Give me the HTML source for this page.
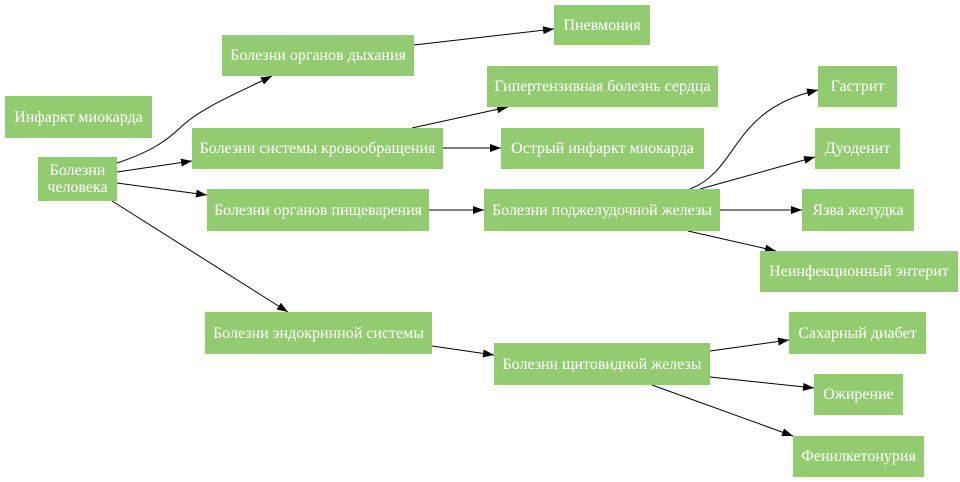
<!DOCTYPE html>
<html><head><meta charset="utf-8"><style>
html,body{margin:0;padding:0;background:#fff;width:960px;height:482px;overflow:hidden}
.n{position:absolute;background:#93cc70;color:#fff;font-family:"Liberation Serif",serif;font-size:16px;display:flex;align-items:center;justify-content:center;text-align:center;line-height:17px;white-space:nowrap}
svg{position:absolute;left:0;top:0}
</style></head><body>
<svg width="960" height="482">
<defs><marker id="a" markerWidth="11" markerHeight="8" refX="11" refY="4" orient="auto" markerUnits="userSpaceOnUse"><path d="M0,0L11,4L0,8z" fill="#000"/></marker></defs>
<g stroke="#000" stroke-width="1" fill="none" marker-end="url(#a)">
<path d="M117,163C150,152 165,142 180,128C200,108 240,92 272,76"/>
<path d="M117,172L192,161"/>
<path d="M117,183L207,195"/>
<path d="M112,201L288,312"/>
<path d="M414,45L554,29"/>
<path d="M412,128L508,107"/>
<path d="M443,148L501,148"/>
<path d="M429,210L484,210"/>
<path d="M690,189C740,170 730,110 818,90"/>
<path d="M700,189L815,157"/>
<path d="M720,210L802,210"/>
<path d="M688,231L776,251"/>
<path d="M432,346L494,355"/>
<path d="M710,351L789,340"/>
<path d="M710,377L814,388"/>
<path d="M652,385L793,436"/>
</g></svg>
<div class="n" style="left:5px;top:96px;width:147px;height:42px">Инфаркт миокарда</div>
<div class="n" style="left:38px;top:157px;width:79px;height:44px">Болезни<br>человека</div>
<div class="n" style="left:222px;top:35px;width:192px;height:41px">Болезни органов дыхания</div>
<div class="n" style="left:554px;top:5px;width:96px;height:40px">Пневмония</div>
<div class="n" style="left:487px;top:66px;width:231px;height:41px">Гипертензивная болезнь сердца</div>
<div class="n" style="left:192px;top:128px;width:251px;height:41px">Болезни системы кровообращения</div>
<div class="n" style="left:501px;top:128px;width:203px;height:41px">Острый инфаркт миокарда</div>
<div class="n" style="left:818px;top:66px;width:79px;height:41px">Гастрит</div>
<div class="n" style="left:815px;top:128px;width:85px;height:41px">Дуоденит</div>
<div class="n" style="left:207px;top:189px;width:222px;height:42px">Болезни органов пищеварения</div>
<div class="n" style="left:484px;top:189px;width:236px;height:42px">Болезни поджелудочной железы</div>
<div class="n" style="left:802px;top:189px;width:112px;height:42px">Язва желудка</div>
<div class="n" style="left:760px;top:251px;width:198px;height:41px">Неинфекционный энтерит</div>
<div class="n" style="left:205px;top:312px;width:227px;height:42px">Болезни эндокринной системы</div>
<div class="n" style="left:494px;top:343px;width:216px;height:42px">Болезни щитовидной железы</div>
<div class="n" style="left:789px;top:312px;width:137px;height:42px">Сахарный диабет</div>
<div class="n" style="left:814px;top:374px;width:89px;height:41px">Ожирение</div>
<div class="n" style="left:793px;top:436px;width:131px;height:41px">Фенилкетонурия</div>
</body></html>
